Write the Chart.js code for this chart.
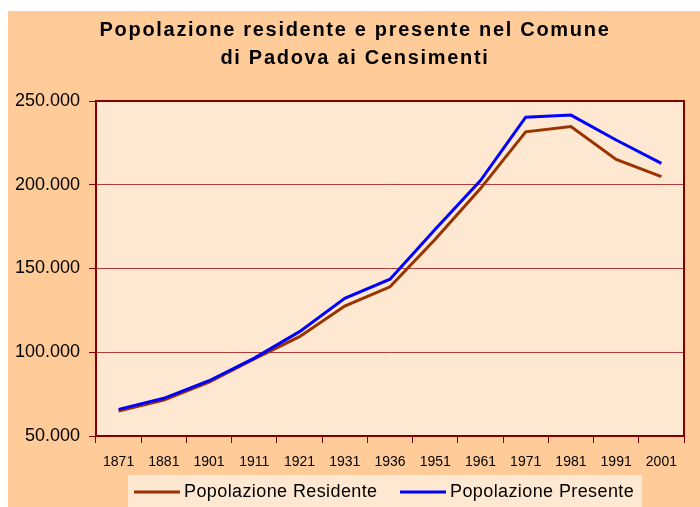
<!DOCTYPE html>
<html>
<head>
<meta charset="utf-8">
<script src="https://cdn.jsdelivr.net/npm/chart.js@4/dist/chart.umd.min.js"></script>
<style>
  html, body { margin: 0; padding: 0; background: #ffffff; }
  #wrap { position: absolute; left: 8px; top: 11px; width: 692px; height: 496px; background: #FFCC99; }
  canvas { display: block; }
</style>
</head>
<body>
<div id="wrap"><canvas id="chart" width="692" height="496"></canvas></div>
<script>
  // census years and population values
  const years = ['1871', '1881', '1901', '1911', '1921', '1931', '1936', '1951', '1961', '1971', '1981', '1991', '2001'];
  const residente = [64900, 71500, 82200, 96000, 109300, 127600, 139100, 167400, 197700, 231600, 234700, 215100, 204900];
  const presente = [65900, 72500, 83000, 96500, 112300, 132200, 143600, 173400, 202500, 240300, 241600, 226700, 212800];
  const yTicks = [50000, 100000, 150000, 200000, 250000];
  const titleLines = ['Popolazione residente e presente nel Comune', 'di Padova ai Censimenti'];

  const PLOT_BG = '#FFE8D1';
  const DARK_RED = '#800000';
  const FONT = '"Liberation Sans", Arial, sans-serif';

  function formatThousands(v) {
    return String(v).replace(/\B(?=(\d{3})+(?!\d))/g, '.');
  }

  const plotFrame = {
    id: 'plotFrame',
    beforeDraw(chart) {
      const { ctx, chartArea: a } = chart;
      ctx.save();
      ctx.fillStyle = PLOT_BG;
      ctx.fillRect(a.left, a.top, a.right - a.left, a.bottom - a.top);
      ctx.restore();
    },
    afterDraw(chart) {
      const { ctx, chartArea: a } = chart;
      ctx.save();
      ctx.strokeStyle = DARK_RED;
      ctx.lineWidth = 2;
      ctx.beginPath();
      ctx.moveTo(a.left, a.top);
      ctx.lineTo(a.right, a.top);
      ctx.lineTo(a.right, a.bottom);
      ctx.stroke();
      ctx.restore();
    }
  };

  // spaced-out bold title, like the spreadsheet one
  const spacedTitle = {
    id: 'spacedTitle',
    afterDraw(chart) {
      const ctx = chart.ctx;
      ctx.save();
      ctx.font = 'bold 20px ' + FONT;
      ctx.letterSpacing = '1.7px';
      ctx.fillStyle = '#000000';
      ctx.textAlign = 'center';
      ctx.textBaseline = 'middle';
      titleLines.forEach((line, i) => ctx.fillText(line, 347, 19 + i * 28));
      ctx.restore();
    }
  };

  // legend box at the bottom, drawn by hand to match the spreadsheet look
  const boxLegend = {
    id: 'boxLegend',
    afterDraw(chart) {
      const ctx = chart.ctx;
      const sets = chart.data.datasets;
      const pos = [126, 392];
      ctx.save();
      ctx.fillStyle = PLOT_BG;
      ctx.fillRect(120, 464, 514, 32);
      ctx.font = '18px ' + FONT;
      ctx.letterSpacing = '0.4px';
      ctx.textBaseline = 'middle';
      sets.forEach((ds, i) => {
        const x = pos[i];
        ctx.strokeStyle = ds.borderColor;
        ctx.lineWidth = 3;
        ctx.beginPath();
        ctx.moveTo(x, 481);
        ctx.lineTo(x + 46, 481);
        ctx.stroke();
        ctx.fillStyle = '#000000';
        ctx.fillText(ds.label, x + 50, 481);
      });
      ctx.restore();
    }
  };

  new Chart(document.getElementById('chart'), {
    type: 'line',
    data: {
      labels: years,
      datasets: [
        { label: 'Popolazione Residente', data: residente, borderColor: '#993300', order: 1 },
        { label: 'Popolazione Presente', data: presente, borderColor: '#0000FF', order: 0 },
      ],
    },
    options: {
      responsive: false,
      devicePixelRatio: 1,
      animation: false,
      layout: { padding: { left: 0, right: 16, top: 90, bottom: 0 } },
      elements: {
        line: { borderWidth: 3, tension: 0, fill: false },
        point: { radius: 0 },
      },
      plugins: {
        legend: { display: false },
        tooltip: { enabled: false },
        title: { display: false },
      },
      scales: {
        x: {
          offset: true,
          grid: { offset: true, drawOnChartArea: false, drawTicks: true, tickLength: 7, tickColor: DARK_RED, tickWidth: 1 },
          border: { color: DARK_RED, width: 2 },
          ticks: {
            color: '#000000',
            maxRotation: 0,
            autoSkip: false,
            padding: 11,
            font: { family: FONT, size: 14 },
          },
          afterFit(scale) { scale.height = 71; },
        },
        y: {
          min: 50000,
          max: 250000,
          afterBuildTicks(scale) { scale.ticks = yTicks.map((v) => ({ value: v })); },
          grid: { color: '#B03A3A', lineWidth: 1, tickLength: 7, tickColor: DARK_RED, tickWidth: 1 },
          border: { color: DARK_RED, width: 2 },
          ticks: {
            color: '#000000',
            padding: 9,
            font: { family: FONT, size: 18 },
            callback: (v) => formatThousands(v),
          },
          afterFit(scale) { scale.width = 88; },
        },
      },
    },
    plugins: [plotFrame, spacedTitle, boxLegend],
  });
</script>
</body>
</html>
